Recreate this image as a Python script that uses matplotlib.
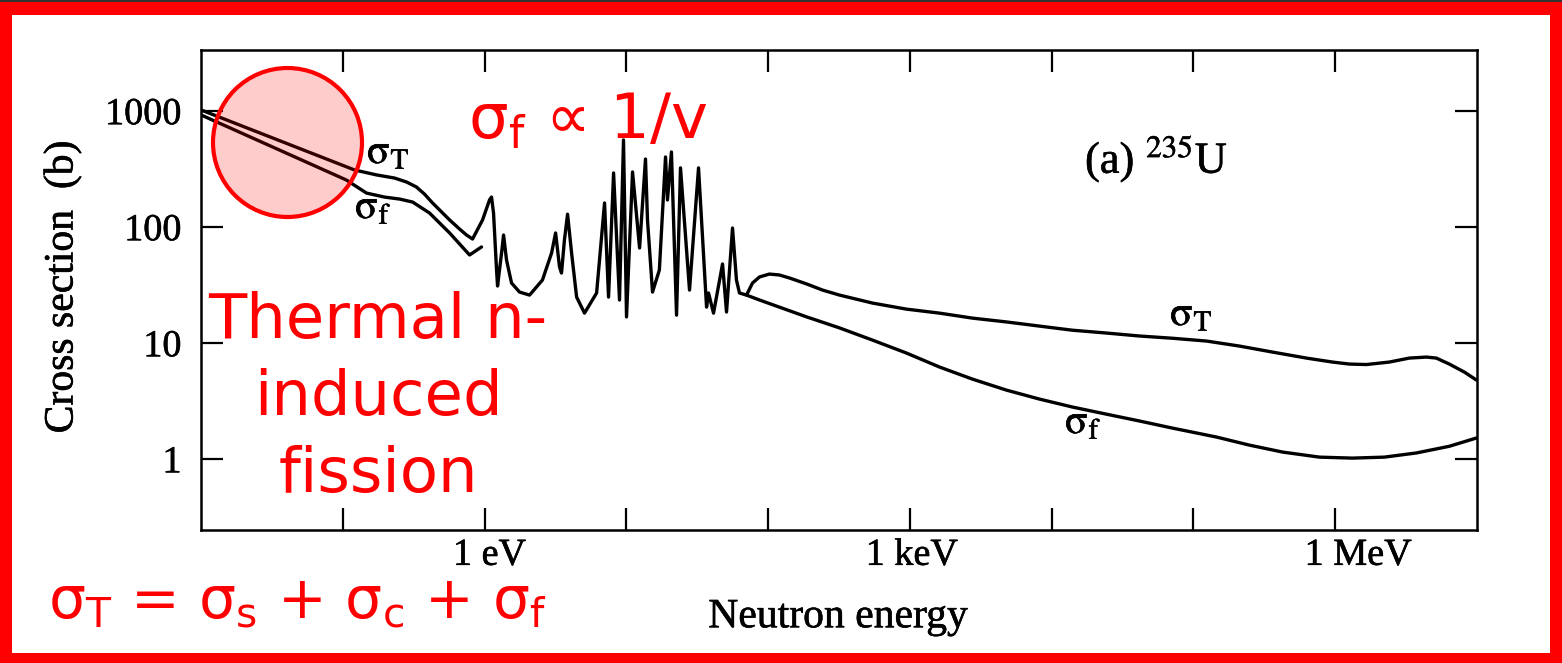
import matplotlib
matplotlib.use("Agg")
import matplotlib.pyplot as plt
import matplotlib.patheffects as pe
from matplotlib.patches import Circle, Rectangle
from matplotlib.ticker import NullLocator
from matplotlib.transforms import ScaledTranslation

W, H, DPI = 1562, 663, 100

# 235U total cross section (barns) against neutron energy (eV)
sigma_t_energy = [
    0.01, 0.121, 0.173, 0.232, 0.282, 0.331, 0.377, 0.43, 0.567, 0.666,
    0.746, 0.823,
    0.968, 1.084, 1.12, 1.157, 1.215, 1.235, 1.318, 1.362, 1.429, 1.55,
    1.765, 2.077, 2.56, 2.97, 3.17, 3.38, 3.49, 3.66, 3.85, 4.11, 4.46,
    5.07, 6.17, 7.02, 7.49, 8.13, 8.95, 9.55, 10.03, 11.06, 12.4, 13.65,
    14.1, 15.3, 17.1, 18.9, 19.5, 20.8, 22.6, 24.1, 27.9, 32.3, 36.8,
    38.0, 41.2, 47.7, 50.9, 56.1, 59.8, 62.8, 70.4,
    77.6, 86.9, 102, 120, 142, 187, 242, 319, 545, 946, 1620, 2760,
    4800, 8200, 14000, 24300, 41600, 71100, 124000, 211000, 361000,
    627000, 955000, 1.26e6, 1.66e6, 2.41e6, 3.33e6, 4.40e6, 5.17e6,
    6.38e6, 8.15e6, 9.91e6,
]
sigma_t = [
    1020, 310, 281, 264, 244, 221, 192, 161, 115, 96.1,
    85.3, 78.8,
    115, 171, 181, 132, 42.6, 31.0, 59.7, 85.3, 51.9, 32.9,
    27.5, 25.9, 34.9, 59.7, 88.8, 45.2, 40.1, 77.3, 129, 59.7, 24.9,
    18.1, 27.0, 161, 24.9, 292, 23.5, 562, 16.8, 298, 65.9, 385,
    115, 27.5, 42.6, 401, 171, 443, 17.4, 323, 28.6, 323, 20.4,
    27.0, 18.1, 48.0, 18.5, 98.0, 34.9, 27.0, 25.9,
    32.9, 37.1, 39.3, 38.6, 36.3, 32.3, 28.6, 25.9, 22.1, 19.6, 18.1, 16.4,
    15.2, 14.0, 12.9, 12.2, 11.5, 11.0, 10.4, 9.42, 8.36,
    7.42, 6.86, 6.59, 6.53, 6.86, 7.42, 7.57, 7.42,
    6.59, 5.62, 4.80,
]

# 235U fission cross section: thermal branch and smooth part above the resonances
sigma_f_low_energy = [0.01, 0.106, 0.147, 0.197, 0.252, 0.311, 0.409, 0.567,
                      0.784, 0.952]
sigma_f_low = [924, 254, 196, 181, 174, 164, 132, 88.8, 57.4, 67.3]
sigma_f_high_energy = [70.4, 86.9, 120, 187, 319, 545, 946, 1620, 2760, 4800,
                       8200, 14000, 24300, 41600, 71100, 145000, 248000,
                       425000, 774000, 1.32e6, 2.22e6, 3.74e6, 6.38e6, 9.91e6]
sigma_f_high = [25.9, 23.5, 20.4, 16.8, 13.5, 10.6, 8.20, 6.21, 4.89, 3.93,
                3.29, 2.81, 2.44, 2.13, 1.85, 1.55, 1.32,
                1.15, 1.04, 1.02, 1.04, 1.13, 1.29, 1.52]

x_tick_values = [0.1, 1, 10, 100, 1e3, 1e4, 1e5, 1e6]
x_tick_labels = ['', '1 eV', '', '', '1 keV', '', '', '1 MeV']
y_tick_values = [1, 10, 100, 1000]
y_tick_labels = ['1', '10', '100', '1000']

plt.rcParams['font.family'] = ['Liberation Serif', 'DejaVu Serif']
RED = '#ff0000'
SANS = ['DejaVu Sans']
INK = [pe.withStroke(linewidth=0.4, foreground='black')]

fig = plt.figure(figsize=(W / DPI, H / DPI), dpi=DPI)
fig.patch.set_facecolor('white')


def fxy(x, y):
    """Pixel position (from top-left) to figure fraction."""
    return x / W, 1 - y / H


ax = fig.add_axes([201 / W, 1 - 530 / H, (1477 - 201) / W, (530 - 50) / H])
ax.set_xscale('log')
ax.set_yscale('log')
ax.set_xlim(1e-2, 1e7)
ax.set_ylim(0.245, 3350)

line_kw = dict(color='black', lw=2.4, solid_joinstyle='round',
               solid_capstyle='round', zorder=3)
ax.plot(sigma_t_energy, sigma_t, **line_kw)
ax.plot(sigma_f_low_energy, sigma_f_low, **line_kw)
ax.plot(sigma_f_high_energy, sigma_f_high, **line_kw)

ax.set_xticks(x_tick_values, x_tick_labels)
ax.set_yticks(y_tick_values, y_tick_labels)
ax.xaxis.set_minor_locator(NullLocator())
ax.yaxis.set_minor_locator(NullLocator())
ax.tick_params(axis='both', which='major', direction='in', length=16,
               width=1.6, top=True, right=True, labelsize=27.5)
ax.tick_params(axis='x', pad=6)
ax.tick_params(axis='y', pad=14)
for sp in ax.spines.values():
    sp.set_linewidth(1.8)

# the energy labels sit a little right of their ticks
for tick, dx in zip(ax.xaxis.get_major_ticks(), [0, 5, 0, 0, 2, 0, 0, 23]):
    lbl = tick.label1
    lbl.set_transform(lbl.get_transform()
                      + ScaledTranslation(dx / DPI, 0, fig.dpi_scale_trans))
for lbl in ax.get_xticklabels() + ax.get_yticklabels():
    lbl.set_path_effects(INK)

ax.set_ylabel('Cross section  (b)', fontsize=30, va='center', path_effects=INK)
ax.yaxis.set_label_coords((62 - 201) / 1276, (530 - 287) / 480)
ax.set_xlabel('Neutron energy', fontsize=30, va='center', path_effects=INK)
ax.xaxis.set_label_coords((838 - 201) / 1276, (530 - 617) / 480)

# curve labels
lab_kw = dict(fontsize=30, math_fontfamily='stix', ha='left', va='baseline',
              path_effects=INK)
fig.text(*fxy(367, 163), r'$\mathrm{\sigma_T}$', **lab_kw)
fig.text(*fxy(355, 218), r'$\mathrm{\sigma_f}$', **lab_kw)
fig.text(*fxy(1170, 325), r'$\mathrm{\sigma_T}$', **lab_kw)
fig.text(*fxy(1065, 433), r'$\mathrm{\sigma_f}$', **lab_kw)
fig.text(*fxy(1085, 173), r'(a) $^{235}$U', fontsize=32,
         math_fontfamily='stix', ha='left', va='baseline', path_effects=INK)

# highlight of the thermal region
fig.add_artist(Circle((287.5 / DPI, (H - 142.5) / DPI), 74.5 / DPI,
                      transform=fig.dpi_scale_trans, facecolor=(1, 0, 0, 0.2),
                      edgecolor=RED, lw=3, zorder=5))

red_kw = dict(color=RED, family=SANS, math_fontfamily='dejavusans',
              va='baseline', zorder=6)
fig.text(*fxy(468, 138), r'$\mathrm{\sigma_f}$ ∝ 1/v', ha='left',
         fontsize=45, **red_kw)
for txt, yb in [('Thermal n-', 338), ('induced', 415), ('fission', 492)]:
    fig.text(*fxy(378, yb), txt, ha='center', fontsize=45, **red_kw)
fig.text(*fxy(48, 618),
         r'$\mathrm{\sigma_T}$ = $\mathrm{\sigma_s}$ + $\mathrm{\sigma_c}$ + $\mathrm{\sigma_f}$',
         ha='left', fontsize=42, **red_kw)

# slide frame
frame = [
    ((0, 1 - 2 / H), 1, 2 / H, '#333333'),
    ((0, 1 - 15 / H), 1, 13 / H, RED),
    ((0, 0), 12 / W, 1 - 2 / H, RED),
    ((1550 / W, 0), 12 / W, 1 - 2 / H, RED),
    ((0, 0), 1, 10 / H, RED),
]
for xy, w, h, c in frame:
    fig.add_artist(Rectangle(xy, w, h, transform=fig.transFigure,
                             facecolor=c, edgecolor='none', zorder=10))

fig.savefig('out.png', dpi=DPI, facecolor='white')
